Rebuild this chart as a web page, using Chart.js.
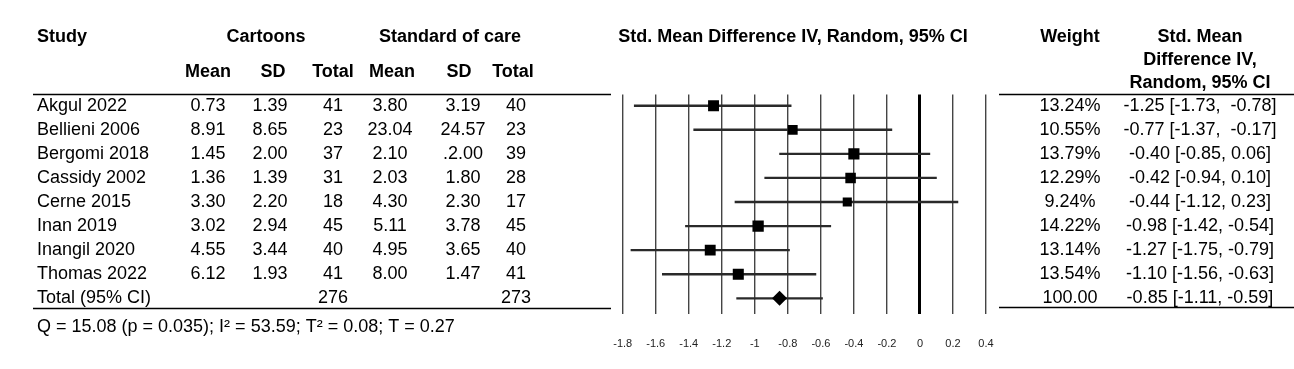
<!DOCTYPE html>
<html>
<head>
<meta charset="utf-8">
<style>
  html, body { margin: 0; padding: 0; background: #fff; }
  #wrap { width: 1294px; height: 369px; }
</style>
<script src="https://cdn.jsdelivr.net/npm/chart.js@4"></script>
</head>
<body>
<div id="wrap"><canvas id="forest" width="1294" height="369"></canvas></div>
<script>
// study rows
const studies = ['Akgul 2022', 'Bellieni 2006', 'Bergomi 2018', 'Cassidy 2002', 'Cerne 2015', 'Inan 2019', 'Inangil 2020', 'Thomas 2022'];
const cartoonMean = ['0.73', '8.91', '1.45', '1.36', '3.30', '3.02', '4.55', '6.12'];
const cartoonSD = ['1.39', '8.65', '2.00', '1.39', '2.20', '2.94', '3.44', '1.93'];
const cartoonTotal = [41, 23, 37, 31, 18, 45, 40, 41];
const careMean = ['3.80', '23.04', '2.10', '2.03', '4.30', '5.11', '4.95', '8.00'];
const careSD = ['3.19', '24.57', '.2.00', '1.80', '2.30', '3.78', '3.65', '1.47'];
const careTotal = [40, 23, 39, 28, 17, 45, 40, 41];
const weights = [13.24, 10.55, 13.79, 12.29, 9.24, 14.22, 13.14, 13.54];
const smd = [-1.25, -0.77, -0.40, -0.42, -0.44, -0.98, -1.27, -1.10];
const ciLow = [-1.73, -1.37, -0.85, -0.94, -1.12, -1.42, -1.75, -1.56];
const ciHigh = [-0.78, -0.17, 0.06, 0.10, 0.23, -0.54, -0.79, -0.63];
const ciText = ['-1.25 [-1.73,  -0.78]', '-0.77 [-1.37,  -0.17]', '-0.40 [-0.85, 0.06]', '-0.42 [-0.94, 0.10]',
                '-0.44 [-1.12, 0.23]', '-0.98 [-1.42, -0.54]', '-1.27 [-1.75, -0.79]', '-1.10 [-1.56, -0.63]'];

// pooled result
const totalLabel = 'Total (95% CI)';
const totalCartoon = 276;
const totalCare = 273;
const totalSmd = -0.85;
const totalLow = -1.11;
const totalHigh = -0.59;
const totalWeight = '100.00';
const totalCiText = '-0.85 [-1.11, -0.59]';
const footer = 'Q = 15.08 (p = 0.035); I\u00b2 = 53.59; T\u00b2 = 0.08; T = 0.27';

// x axis
const tickValues = [-1.8, -1.6, -1.4, -1.2, -1, -0.8, -0.6, -0.4, -0.2, 0, 0.2, 0.4];
const tickLabels = ['-1.8', '-1.6', '-1.4', '-1.2', '-1', '-0.8', '-0.6', '-0.4', '-0.2', '0', '0.2', '0.4'];

const FONT = "'Liberation Sans', Arial, sans-serif";
const totalRow = studies.length;

// table text, drawn next to the plot using the y scale for the rows
const tablePlugin = {
    id: 'table',
    afterDraw(chart) {
        const c = chart.ctx;
        const y = chart.scales.y;
        c.save();
        c.fillStyle = '#000';
        c.textBaseline = 'middle';

        // headers
        c.font = 'bold 18px ' + FONT;
        c.textAlign = 'left';
        c.fillText('Study', 37, 37);
        c.textAlign = 'center';
        c.fillText('Cartoons', 266, 37);
        c.fillText('Standard of care', 450, 37);
        c.fillText('Std. Mean Difference IV, Random, 95% CI', 793, 37);
        c.fillText('Weight', 1070, 37);
        c.fillText('Std. Mean', 1200, 37);
        c.fillText('Difference IV,', 1200, 60);
        c.fillText('Random, 95% CI', 1200, 83);
        const sub = [['Mean', 208], ['SD', 273], ['Total', 333], ['Mean', 392], ['SD', 459], ['Total', 513]];
        sub.forEach(s => c.fillText(s[0], s[1], 72));

        // rows
        c.font = '18px ' + FONT;
        studies.forEach((s, i) => {
            const py = y.getPixelForValue(i);
            c.textAlign = 'left';
            c.fillText(s, 37, py);
            c.textAlign = 'center';
            c.fillText(cartoonMean[i], 208, py);
            c.fillText(cartoonSD[i], 270, py);
            c.fillText(String(cartoonTotal[i]), 333, py);
            c.fillText(careMean[i], 390, py);
            c.fillText(careSD[i], 463, py);
            c.fillText(String(careTotal[i]), 516, py);
            c.fillText(weights[i].toFixed(2) + '%', 1070, py);
            c.fillText(ciText[i], 1200, py);
        });
        const ty = y.getPixelForValue(totalRow);
        c.textAlign = 'left';
        c.fillText(totalLabel, 37, ty);
        c.textAlign = 'center';
        c.fillText(String(totalCartoon), 333, ty);
        c.fillText(String(totalCare), 516, ty);
        c.fillText(totalWeight, 1070, ty);
        c.fillText(totalCiText, 1200, ty);

        c.textAlign = 'left';
        c.fillText(footer, 37, 327);

        // rules
        c.strokeStyle = '#000';
        c.lineWidth = 1.5;
        c.beginPath();
        c.moveTo(33, 94.5); c.lineTo(611, 94.5);
        c.moveTo(33, 308.5); c.lineTo(611, 308.5);
        c.moveTo(999, 94.5); c.lineTo(1294, 94.5);
        c.moveTo(999, 307.5); c.lineTo(1294, 307.5);
        c.stroke();
        c.restore();
    }
};

document.addEventListener('DOMContentLoaded', function() {
    const ctx = document.getElementById('forest').getContext('2d');
    new Chart(ctx, {
        type: 'scatter',
        data: {
            datasets: [{
                type: 'bar',
                label: 'CI',
                indexAxis: 'y',
                data: studies.map((s, i) => ({ x: [ciLow[i], ciHigh[i]], y: i }))
                    .concat([{ x: [totalLow, totalHigh], y: totalRow }]),
                backgroundColor: '#2a2a2a',
                barThickness: 1.7,
                order: 2
            }, {
                label: 'Studies',
                data: studies.map((s, i) => ({ x: smd[i], y: i })),
                pointStyle: 'rect',
                pointRadius: weights.map(w => 3.0 * Math.sqrt(w) / Math.SQRT2),
                pointBackgroundColor: '#000',
                pointBorderWidth: 0,
                order: 1
            }, {
                label: 'Total',
                data: [{ x: totalSmd, y: totalRow }],
                pointStyle: 'rectRot',
                pointRadius: 7.5,
                pointBackgroundColor: '#000',
                pointBorderWidth: 0,
                order: 1
            }]
        },
        options: {
            responsive: false,
            animation: false,
            events: [],
            layout: { padding: { left: 622.7, right: 308, top: 94.5, bottom: 19 } },
            plugins: { legend: { display: false }, tooltip: { enabled: false } },
            scales: {
                x: {
                    type: 'linear',
                    offset: false,
                    min: -1.8,
                    max: 0.4,
                    afterBuildTicks: axis => { axis.ticks = tickValues.map(v => ({ value: v })); },
                    afterFit: axis => { axis.height = 36; },
                    border: { display: false },
                    grid: {
                        offset: false,
                        drawTicks: false,
                        color: ctx => ctx.tick && ctx.tick.value === 0 ? '#000' : '#444',
                        lineWidth: ctx => ctx.tick && ctx.tick.value === 0 ? 3 : 1.4
                    },
                    ticks: {
                        padding: 23,
                        autoSkip: false,
                        maxRotation: 0,
                        color: '#222',
                        font: { family: FONT, size: 11 },
                        callback: (v, i) => tickLabels[i]
                    }
                },
                y: {
                    type: 'linear',
                    display: false,
                    offset: false,
                    reverse: true,
                    min: -0.465,
                    max: 8.65
                }
            }
        },
        plugins: [tablePlugin]
    });
});
</script>
</body>
</html>
